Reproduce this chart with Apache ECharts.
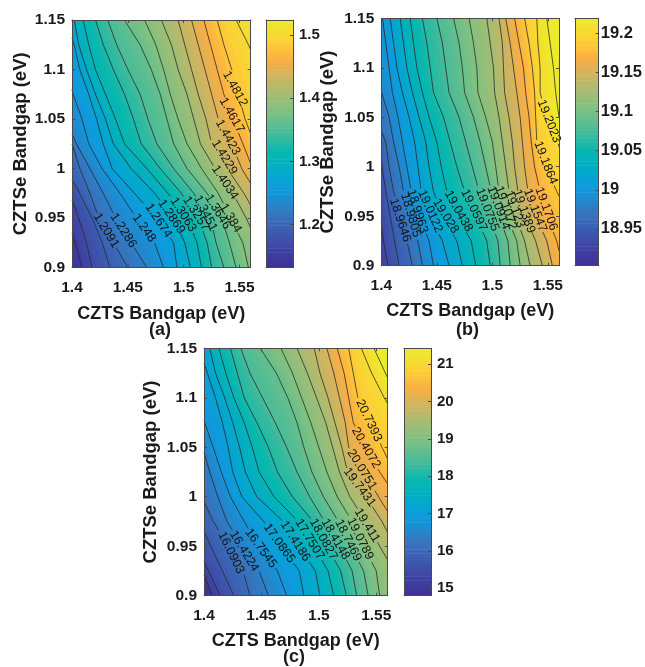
<!DOCTYPE html>
<html><head><meta charset="utf-8"><style>html,body{margin:0;padding:0;background:#fff}#c{width:645px;height:667px}</style>
<script src="https://cdn.jsdelivr.net/npm/echarts@6/dist/echarts.min.js"></script></head><body><div id="c"></div>
<script>
// shared axes
const rowsY=[1.15,1.125,1.1,1.075,1.05,1.025,1,0.975,0.95,0.925,0.9];
const xTicks=[1.4,1.45,1.5,1.55];
const yTicks=[0.9,0.95,1,1.05,1.1,1.15];
const xRange=[1.4,1.56], yRange=[0.9,1.15];
// colormap stops (fraction, colour)
const cmapPos=[0,0.1,0.21,0.316,0.384,0.465,0.545,0.626,0.707,0.774,0.84,0.91,1];
const cmapCol=['#3f2f96','#3f4ba8','#3873bd','#0f9bdd','#02aacb','#06b8b0','#47bb9a','#7ac183','#a8bc72','#d0b45f','#fbae44','#fdd035','#eceb2c'];

// panel a
const aRange=[1.1315,1.524];
const aBarTicks=[1.2,1.3,1.4,1.5];
const aLevels=[1.1508,1.1703,1.1897,1.2091,1.2286,1.248,1.2674,1.2869,1.3063,1.3257,1.3451,1.3646,1.384,1.4034,1.4229,1.4423,1.4617,1.4812,1.5006];
const aEntryY=[0.935,0.9685,0.9886,1.025,1.035,1.08,1.132];
const aExitY=[0.94,0.963,0.985,1.005,1.035,1.12];
const aX=[
[1.403,1.409],
[1.406,1.413,1.418],
[1.407,1.418,1.427,1.434],
[1.407,1.416,1.424,1.437,1.450],
[1.404,1.416,1.428,1.439,1.453,1.467],
[1.401,1.409,1.415,1.427,1.443,1.458,1.474,1.482],
[1.402,1.407,1.415,1.422,1.428,1.436,1.456,1.476,1.491,1.494],
[1.402,1.406,1.413,1.421,1.430,1.437,1.453,1.474,1.491,1.501,1.506],
[1.410,1.415,1.421,1.430,1.439,1.447,1.467,1.486,1.503,1.512,1.516],
[1.421,1.428,1.437,1.447,1.455,1.462,1.479,1.498,1.513,1.521,1.525],
[1.432,1.440,1.450,1.461,1.468,1.476,1.491,1.509,1.524,1.529,1.536],
[1.447,1.461,1.471,1.479,1.485,1.491,1.503,1.521,1.534,1.541,1.547],
[1.465,1.475,1.482,1.488,1.495,1.503,1.516,1.531,1.542,1.553,1.558],
[1.480,1.489,1.495,1.503,1.509,1.515,1.528,1.544,1.556],
[1.495,1.501,1.507,1.513,1.520,1.525,1.539,1.554],
[1.507,1.513,1.519,1.525,1.531,1.543,1.552],
[1.518,1.524,1.530,1.536,1.544,1.553],
[1.530,1.536,1.543,1.549,1.555],
[1.547,1.558]];
const aLabels=['1.2091','1.2286','1.248','1.2674','1.2869','1.3063','1.3257','1.3451','1.3646','1.384','1.4034','1.4229','1.4423','1.4617','1.4812'];
const aLabelFrom=[[1.421,.955],[1.436,.955],[1.455,.955],[1.467,.965],[1.479,.968],[1.489,.972],[1.501,.972],[1.512,.972],[1.522,.972],[1.534,.965],[1.527,1.003],[1.527,1.029],[1.530,1.051],[1.534,1.072],[1.537,1.099]];
const aLabelTo=[[1.440,.920],[1.456,.920],[1.474,.925],[1.488,.930],[1.499,.935],[1.510,.935],[1.521,.937],[1.527,.938],[1.539,.941],[1.550,.935],[1.547,.969],[1.546,.994],[1.549,1.012],[1.552,1.036],[1.555,1.062]];

// panel b
const bRange=[18.903,19.219];
const bBarTicks=[18.95,19,19.05,19.1,19.15,19.2];
const bLevels=[18.9329,18.9488,18.9646,18.9805,18.9963,19.0122,19.028,19.0438,19.0597,19.0755,19.0914,19.1072,19.123,19.1389,19.1547,19.1706,19.1864,19.2023,19.2181];
const bEntryY=[0.944,1.005,1.036,1.076];
const bExitY=[0.915,0.97,1.02,1.05];
const bX=[
[1.402,1.406],
[1.404,1.408,1.412,1.416],
[1.404,1.407,1.411,1.417,1.423,1.428],
[1.401,1.407,1.411,1.416,1.420,1.426,1.433,1.437],
[1.401,1.404,1.407,1.410,1.415,1.419,1.423,1.427,1.434,1.443,1.447],
[1.408,1.411,1.414,1.419,1.425,1.430,1.433,1.436,1.444,1.455,1.461],
[1.417,1.420,1.423,1.428,1.434,1.440,1.443,1.447,1.455,1.468,1.473],
[1.426,1.429,1.432,1.437,1.443,1.450,1.454,1.459,1.468,1.481,1.485],
[1.437,1.441,1.444,1.447,1.456,1.462,1.468,1.475,1.485,1.495,1.498],
[1.450,1.455,1.458,1.461,1.470,1.476,1.482,1.488,1.497,1.505,1.507],
[1.465,1.470,1.473,1.475,1.483,1.489,1.494,1.499,1.506,1.514,1.516],
[1.479,1.483,1.486,1.487,1.494,1.500,1.503,1.506,1.513,1.522,1.525],
[1.495,1.498,1.501,1.502,1.506,1.509,1.512,1.515,1.521,1.529,1.534],
[1.506,1.509,1.510,1.511,1.515,1.518,1.520,1.523,1.529,1.539,1.545],
[1.512,1.516,1.519,1.522,1.525,1.527,1.529,1.532,1.539,1.549,1.554],
[1.520,1.524,1.528,1.530,1.533,1.535,1.538,1.543,1.549,1.558],
[1.529,1.533,1.536,1.538,1.539,1.540,1.548,1.558],
[1.540,1.541,1.543,1.543,1.549,1.559],
[1.549,1.552,1.555,1.557]];
const bLabels=['18.9646','18.9805','18.9963','19.0122','19.028','19.0438','19.0597','19.0755','19.0914','19.1072','19.123','19.1389','19.1547','19.1706','19.1864','19.2023'];
const bLabelFrom=[[1.410,.970],[1.420,.976],[1.426,.978],[1.435,.978],[1.448,.968],[1.459,.976],[1.474,.978],[1.487,.981],[1.498,.981],[1.505,.981],[1.513,.978],[1.522,.976],[1.531,.978],[1.541,.981],[1.540,1.027],[1.543,1.069]];
const bLabelTo=[[1.424,.922],[1.433,.926],[1.439,.932],[1.453,.932],[1.468,.932],[1.480,.934],[1.493,.934],[1.504,.932],[1.513,.936],[1.519,.936],[1.527,.936],[1.535,.934],[1.546,.934],[1.556,.934],[1.556,.981],[1.559,1.023]];

// panel c
const cRange=[14.8,21.43];
const cBarTicks=[15,16,17,18,19,20,21];
const cLevels=[15.0941,15.4262,15.7582,16.0903,16.4224,16.7545,17.0865,17.4186,17.7507,18.0827,18.4148,18.7469,19.0789,19.411,19.7431,20.0751,20.4072,20.7393,21.0714,21.4034];
const cEntryY=[0.921,0.9345,0.965,0.995,1.045,1.077,1.135];
const cExitY=[0.936,0.964,0.985,1.013,1.038,1.094,1.12];
const cX=[
[1.407],
[1.404,1.414],
[1.406,1.416,1.426],
[1.408,1.421,1.434,1.440],
[1.405,1.412,1.420,1.433,1.448,1.456],
[1.401,1.408,1.415,1.423,1.435,1.448,1.464,1.472],
[1.403,1.410,1.416,1.421,1.425,1.433,1.452,1.467,1.483,1.487],
[1.405,1.410,1.418,1.425,1.431,1.436,1.446,1.469,1.482,1.497,1.501],
[1.413,1.419,1.426,1.435,1.442,1.448,1.461,1.482,1.496,1.508,1.513],
[1.423,1.429,1.435,1.446,1.456,1.464,1.477,1.495,1.507,1.519,1.524],
[1.432,1.440,1.451,1.462,1.472,1.481,1.492,1.505,1.518,1.529,1.533],
[1.449,1.463,1.473,1.481,1.487,1.494,1.504,1.517,1.528,1.539,1.543],
[1.467,1.477,1.485,1.493,1.500,1.507,1.516,1.529,1.539,1.550,1.553],
[1.481,1.490,1.498,1.506,1.512,1.518,1.527,1.541,1.553],
[1.496,1.501,1.508,1.514,1.520,1.525,1.541,1.555],
[1.507,1.513,1.518,1.523,1.526,1.539,1.552],
[1.516,1.522,1.526,1.530,1.541,1.553],
[1.526,1.530,1.534,1.546,1.555],
[1.537,1.546,1.557],
[1.548,1.558]];
const cLabels=['16.0903','16.4224','16.7545','17.0865','17.4186','17.7507','18.0827','18.4148','18.7469','19.0789','19.411','19.7431','20.0751','20.4072','20.7393'];
const cLabelFrom=[[1.414,.966],[1.424,.966],[1.437,.968],[1.453,.973],[1.468,.976],[1.481,.978],[1.494,.978],[1.504,.978],[1.516,.978],[1.526,.981],[1.533,.988],[1.523,1.029],[1.526,1.049],[1.530,1.071],[1.534,1.100]];
const cLabelTo=[[1.433,.921],[1.446,.924],[1.462,.928],[1.478,.933],[1.491,.934],[1.503,.936],[1.514,.936],[1.525,.936],[1.535,.934],[1.546,.934],[1.551,.954],[1.548,.990],[1.549,1.006],[1.552,1.028],[1.553,1.054]];

const FONT='"Liberation Sans",Arial,sans-serif';
const AX='#4a4a4a';
const STEPS=64;
const hex=h=>[1,3,5].map(i=>parseInt(h.substr(i,2),16));
function colorAt(f){f=Math.max(0,Math.min(1,f));let i=0;while(i<cmapPos.length-2&&f>cmapPos[i+1])i++;
  const t=(f-cmapPos[i])/(cmapPos[i+1]-cmapPos[i]),a=hex(cmapCol[i]),b=hex(cmapCol[i+1]);
  return 'rgb('+a.map((v,k)=>Math.round(v+(b[k]-v)*t)).join(',')+')';}

function contour(p,i){ // polyline of contour i in data units, from top/left to bottom/right
  const xs=p.x[i],pts=[];const n=p.levels.length;
  if(i<p.entry.length){pts.push([xRange[0],p.entry[i]]);const s=rowsY.length-xs.length;xs.forEach((x,k)=>pts.push([x,rowsY[s+k]]));}
  else{xs.forEach((x,k)=>pts.push([x,rowsY[k]]));const e=i-(n-p.exit.length);if(e>=0)pts.push([xRange[1],p.exit[e]]);}
  return pts;}
function xAtY(pts,y){ // along the polyline, continuing its end segments past the plot edge
  for(let k=0;k<pts.length-1;k++){const a=pts[k],b=pts[k+1];if(y<=a[1]&&y>=b[1]&&a[1]!==b[1])return a[0]+(b[0]-a[0])*(a[1]-y)/(a[1]-b[1]);}
  const e=y>pts[0][1]?[pts[0],pts[1]]:[pts[pts.length-2],pts[pts.length-1]];
  return e[0][0]+(e[1][0]-e[0][0])*(e[0][1]-y)/(e[0][1]-e[1][1]);}

const grids=[],xAxes=[],yAxes=[],series=[],graphics=[];
function addPanel(p){
  const g=grids.length;
  grids.push({left:p.box[0],top:p.box[1],width:p.box[2],height:p.box[3],show:false});
  const xi=xAxes.length,yi=yAxes.length;
  const axBase={type:'value',gridIndex:g,z:10,splitLine:{show:false},axisLine:{show:true,onZero:false,lineStyle:{color:AX,width:1}}};
  const lab={fontFamily:FONT,fontWeight:'bold',fontSize:15.5,color:'#1a1a1a'};
  xAxes.push({...axBase,min:xRange[0],max:xRange[1],position:'bottom',name:'CZTS Bandgap (eV)',nameLocation:'middle',nameGap:p.xGap,
    nameTextStyle:{fontFamily:FONT,fontWeight:'bold',fontSize:18,color:'#1a1a1a'},
    axisTick:{inside:true,length:3,lineStyle:{color:AX},customValues:xTicks},axisLabel:{...lab,margin:12,customValues:xTicks,formatter:v=>String(v),hideOverlap:false}});
  xAxes.push({...axBase,min:xRange[0],max:xRange[1],position:'top',axisTick:{inside:true,length:3,lineStyle:{color:AX},customValues:xTicks},axisLabel:{show:false}});
  yAxes.push({...axBase,min:yRange[0],max:yRange[1],position:'left',name:'CZTSe Bandgap (eV)',nameLocation:'middle',nameGap:p.yGap,
    nameTextStyle:{fontFamily:FONT,fontWeight:'bold',fontSize:18.5,color:'#1a1a1a'},
    axisTick:{inside:true,length:3,lineStyle:{color:AX},customValues:yTicks},axisLabel:{...lab,margin:7,customValues:yTicks,formatter:v=>String(v),hideOverlap:false}});
  yAxes.push({...axBase,min:yRange[0],max:yRange[1],position:'right',axisTick:{inside:true,length:3,lineStyle:{color:AX},customValues:yTicks},axisLabel:{show:false}});
  const ref={xAxisIndex:xi,yAxisIndex:yi,coordinateSystem:'cartesian2d',silent:true};
  const w=p.range[1]-p.range[0];
  const rowX=p.levels.map((_,i)=>{const c=contour(p,i);return rowsY.map(y=>xAtY(c,y));});
  series.push({...ref,type:'custom',clip:true,z:1,animation:false,data:[...Array(STEPS).keys()].map(i=>[i]),
    renderItem(params,api){const k=api.value(0);const v=p.range[0]+w*k/STEPS;
      let i=0;while(i<p.levels.length-2&&v>p.levels[i+1])i++;
      const t=(v-p.levels[i])/(p.levels[i+1]-p.levels[i]);
      const pts=k===0?[[xRange[0]-1,yRange[1]],[xRange[0]-1,yRange[0]]]:rowsY.map((y,r)=>[rowX[i][r]+(rowX[i+1][r]-rowX[i][r])*t,y]);
      pts.push([xRange[1]+1,yRange[0]],[xRange[1]+1,yRange[1]]);
      const col=colorAt((k+0.5)/STEPS);
      return {type:'polygon',shape:{points:pts.map(q=>api.coord(q))},style:{fill:col,stroke:col,lineWidth:0.3}};}});
  // contour lines, with a gap where a label sits
  p.levels.forEach((lv,i)=>{
    const pts=contour(p,i);const li=p.labels.indexOf(String(lv));let data=pts;
    if(li>=0){const y0=p.from[li][1],y1=p.to[li][1];
      data=pts.filter(q=>q[1]>y0).concat([[xAtY(pts,y0),y0],['-','-'],[xAtY(pts,y1),y1]],pts.filter(q=>q[1]<y1));}
    series.push({...ref,type:'line',z:2,data,showSymbol:false,symbol:'none',clip:true,animation:false,connectNulls:false,
      lineStyle:{color:'#262626',width:0.9,opacity:0.85}});
  });
  // contour labels
  series.push({...ref,type:'custom',clip:false,z:3,animation:false,data:p.labels.map((_,i)=>[i]),
    renderItem(params,api){const i=api.value(0);const a=api.coord(p.from[i]),b=api.coord(p.to[i]);
      return {type:'text',x:(a[0]+b[0])/2,y:(a[1]+b[1])/2,rotation:-Math.atan2(b[1]-a[1],b[0]-a[0]),
        style:{text:p.labels[i],x:0,y:0,textAlign:'center',textVerticalAlign:'middle',fontFamily:FONT,fontSize:12.5,fill:'#141414'}};}});
  // colour bar
  const g2=grids.length;
  grids.push({left:p.bar[0],top:p.box[1],width:p.bar[1],height:p.box[3],show:false});
  const bx=xAxes.length,by=yAxes.length;
  const plain={type:'value',gridIndex:g2,z:10,splitLine:{show:false},axisTick:{show:false},axisLabel:{show:false},axisLine:{show:true,onZero:false,lineStyle:{color:AX}}};
  xAxes.push({...plain,min:0,max:1,position:'bottom'});
  xAxes.push({...plain,min:0,max:1,position:'top'});
  yAxes.push({...plain,min:p.range[0],max:p.range[1],position:'right',
    axisTick:{show:true,inside:true,length:3,lineStyle:{color:AX},customValues:p.barTicks},axisLabel:{...lab,show:true,fontSize:p.barFont,margin:p.barMargin,customValues:p.barTicks,formatter:v=>String(v),hideOverlap:false}});
  yAxes.push({...plain,min:p.range[0],max:p.range[1],position:'left'});
  series.push({type:'custom',coordinateSystem:'cartesian2d',xAxisIndex:bx,yAxisIndex:by,silent:true,animation:false,clip:true,z:1,data:[...Array(STEPS).keys()].map(i=>[i]),
    renderItem(params,api){const i=api.value(0);
      const a=api.coord([0,p.range[0]+w*i/STEPS]),b=api.coord([1,p.range[0]+w*(i+1)/STEPS]);
      return {type:'rect',shape:{x:a[0],y:b[1],width:b[0]-a[0],height:a[1]-b[1]+0.5},style:{fill:colorAt((i+0.5)/STEPS)}};}});
  graphics.push({type:'text',left:p.tag[0],top:p.tag[1],style:{text:p.tag[2],font:'bold 18px '+FONT,fill:'#1a1a1a'}});
}
addPanel({box:[72,20,178.7,247.7],bar:[266,27],range:aRange,barTicks:aBarTicks,barFont:15,barMargin:6,levels:aLevels,entry:aEntryY,exit:aExitY,x:aX,labels:aLabels,from:aLabelFrom,to:aLabelTo,xGap:37,yGap:42,tag:[149,321,'(a)']});
addPanel({box:[381.3,18.3,177.7,247.4],bar:[575,27],range:bRange,barTicks:bBarTicks,barFont:16.5,barMargin:2,levels:bLevels,entry:bEntryY,exit:bExitY,x:bX,labels:bLabels,from:bLabelFrom,to:bLabelTo,xGap:36,yGap:44,tag:[456,321,'(b)']});
addPanel({box:[204,348.3,183.7,247.4],bar:[404,27],range:cRange,barTicks:cBarTicks,barFont:15,barMargin:6,levels:cLevels,entry:cEntryY,exit:cExitY,x:cX,labels:cLabels,from:cLabelFrom,to:cLabelTo,xGap:36,yGap:44,tag:[283,648,'(c)']});

const chart=echarts.init(document.getElementById('c'),null,{renderer:'canvas'});
chart.setOption({animation:false,backgroundColor:'#fff',grid:grids,xAxis:xAxes,yAxis:yAxes,series,graphic:graphics,tooltip:{show:false}});
</script></body></html>
